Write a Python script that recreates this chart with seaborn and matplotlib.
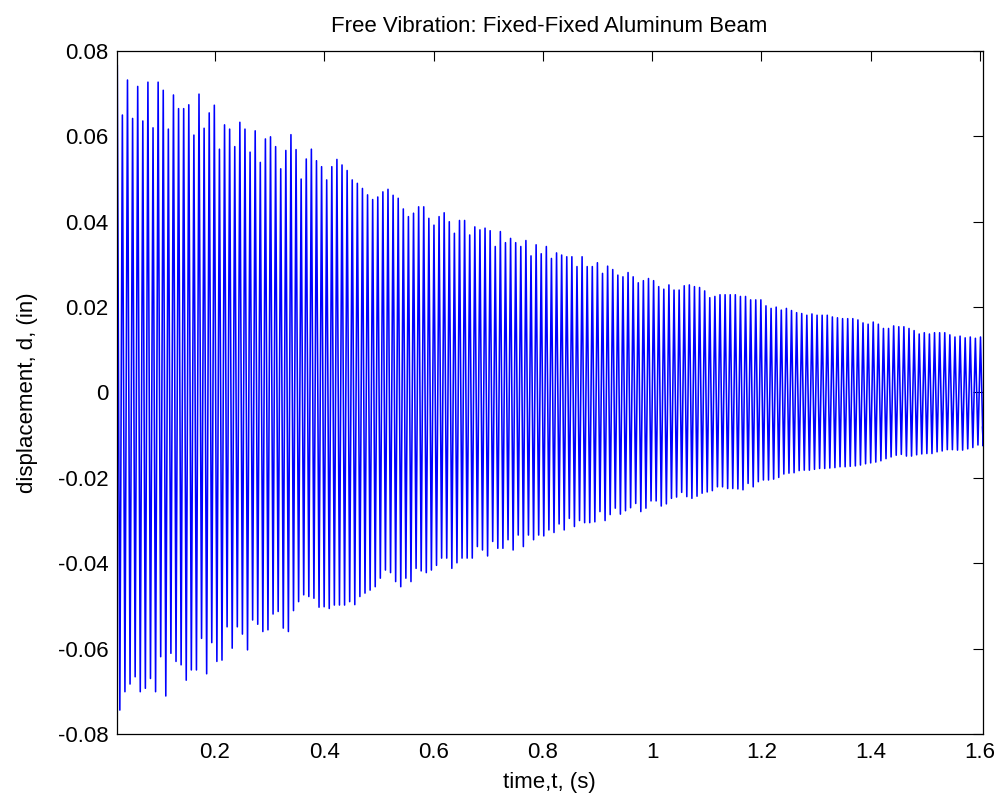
import numpy as np
import pandas as pd
import matplotlib
matplotlib.use("Agg")
import matplotlib.pyplot as plt
import seaborn as sns

# ---- data (displacement peaks, inches) ----
t_start = 0.021          # s, first sample shown
cycle = 0.00935          # s, spacing between successive upper peaks
t_end = 1.605            # s, last sample
d_end = -0.008           # in, last sample value

upper_peaks = [
    0.0767, 0.0650, 0.0732, 0.0642, 0.0717, 0.0636, 0.0727, 0.0620, 0.0727, 0.0708,
    0.0617, 0.0697, 0.0665, 0.0665, 0.0674, 0.0603, 0.0699, 0.0619, 0.0655, 0.0673,
    0.0570, 0.0627, 0.0617, 0.0576, 0.0633, 0.0617, 0.0563, 0.0613, 0.0539, 0.0594,
    0.0599, 0.0576, 0.0524, 0.0567, 0.0604, 0.0569, 0.0500, 0.0547, 0.0570, 0.0543,
    0.0529, 0.0498, 0.0529, 0.0546, 0.0533, 0.0520, 0.0498, 0.0490, 0.0478, 0.0463,
    0.0452, 0.0458, 0.0470, 0.0476, 0.0462, 0.0455, 0.0430, 0.0412, 0.0420, 0.0435,
    0.0435, 0.0408, 0.0392, 0.0412, 0.0421, 0.0400, 0.0373, 0.0403, 0.0403, 0.0369,
    0.0388, 0.0381, 0.0385, 0.0379, 0.0342, 0.0377, 0.0351, 0.0361, 0.0351, 0.0342,
    0.0356, 0.0320, 0.0346, 0.0325, 0.0342, 0.0314, 0.0327, 0.0322, 0.0318, 0.0318,
    0.0295, 0.0318, 0.0295, 0.0295, 0.0304, 0.0279, 0.0296, 0.0288, 0.0275, 0.0271,
    0.0281, 0.0271, 0.0257, 0.0262, 0.0267, 0.0262, 0.0248, 0.0242, 0.0252, 0.0240,
    0.0240, 0.0250, 0.0252, 0.0248, 0.0246, 0.0238, 0.0222, 0.0225, 0.0229, 0.0229,
    0.0229, 0.0229, 0.0225, 0.0225, 0.0217, 0.0217, 0.0217, 0.0203, 0.0197, 0.0200,
    0.0193, 0.0197, 0.0192, 0.0187, 0.0185, 0.0181, 0.0184, 0.0181, 0.0181, 0.0181,
    0.0177, 0.0175, 0.0173, 0.0173, 0.0173, 0.0170, 0.0163, 0.0160, 0.0165, 0.0160,
    0.0150, 0.0150, 0.0156, 0.0154, 0.0154, 0.0150, 0.0145, 0.0137, 0.0140, 0.0137,
    0.0140, 0.0140, 0.0140, 0.0135, 0.0130, 0.0132, 0.0128, 0.0130, 0.0127, 0.0130,
]

lower_peaks = [
    -0.0744, -0.0701, -0.0683, -0.0666, -0.0701, -0.0693, -0.0670, -0.0701, -0.0619, -0.0711,
    -0.0611, -0.0630, -0.0638, -0.0674, -0.0650, -0.0650, -0.0576, -0.0659, -0.0586, -0.0630,
    -0.0627, -0.0549, -0.0599, -0.0549, -0.0566, -0.0603, -0.0533, -0.0543, -0.0560, -0.0556,
    -0.0519, -0.0513, -0.0552, -0.0560, -0.0511, -0.0490, -0.0474, -0.0478, -0.0482, -0.0503,
    -0.0502, -0.0506, -0.0498, -0.0498, -0.0498, -0.0490, -0.0497, -0.0478, -0.0470, -0.0463,
    -0.0455, -0.0435, -0.0416, -0.0422, -0.0443, -0.0455, -0.0435, -0.0443, -0.0412, -0.0418,
    -0.0422, -0.0416, -0.0405, -0.0388, -0.0388, -0.0412, -0.0399, -0.0388, -0.0388, -0.0388,
    -0.0361, -0.0369, -0.0383, -0.0349, -0.0365, -0.0365, -0.0345, -0.0369, -0.0334, -0.0361,
    -0.0334, -0.0345, -0.0334, -0.0336, -0.0322, -0.0328, -0.0308, -0.0322, -0.0295, -0.0314,
    -0.0300, -0.0305, -0.0305, -0.0303, -0.0279, -0.0300, -0.0286, -0.0271, -0.0285, -0.0277,
    -0.0270, -0.0260, -0.0279, -0.0271, -0.0254, -0.0254, -0.0266, -0.0261, -0.0248, -0.0245,
    -0.0234, -0.0244, -0.0248, -0.0243, -0.0236, -0.0233, -0.0230, -0.0221, -0.0221, -0.0225,
    -0.0225, -0.0226, -0.0228, -0.0213, -0.0221, -0.0209, -0.0205, -0.0205, -0.0203, -0.0199,
    -0.0191, -0.0189, -0.0188, -0.0183, -0.0182, -0.0182, -0.0180, -0.0178, -0.0178, -0.0177,
    -0.0176, -0.0174, -0.0174, -0.0173, -0.0172, -0.0170, -0.0167, -0.0165, -0.0163, -0.0160,
    -0.0155, -0.0151, -0.0147, -0.0145, -0.0149, -0.0149, -0.0146, -0.0144, -0.0143, -0.0143,
    -0.0139, -0.0137, -0.0134, -0.0134, -0.0135, -0.0135, -0.0132, -0.0129, -0.0123, -0.0125,
]

x_ticks = [0.2, 0.4, 0.6, 0.8, 1.0, 1.2, 1.4, 1.6]
x_tick_labels = ["0.2", "0.4", "0.6", "0.8", "1", "1.2", "1.4", "1.6"]
y_ticks = [-0.08, -0.06, -0.04, -0.02, 0.0, 0.02, 0.04, 0.06, 0.08]
y_tick_labels = ["-0.08", "-0.06", "-0.04", "-0.02", "0", "0.02", "0.04", "0.06", "0.08"]

title = "Free Vibration: Fixed-Fixed Aluminum Beam"
xlabel = "time,t, (s)"
ylabel = "displacement, d, (in)"

# ---- build the sampled record: upper peak, then lower peak, per cycle ----
n = len(upper_peaks)
t_up = t_start + cycle * np.arange(n)
t_lo = t_up + cycle / 2
t = np.empty(2 * n + 1)
d = np.empty(2 * n + 1)
t[0:2 * n:2] = t_up
t[1:2 * n:2] = t_lo
d[0:2 * n:2] = upper_peaks
d[1:2 * n:2] = lower_peaks
t[-1] = t_end
d[-1] = d_end
df = pd.DataFrame({"t": t, "d": d})

# ---- style ----
sns.set_style("white")
plt.rcParams["font.family"] = ["Liberation Sans Narrow", "Liberation Sans", "DejaVu Sans"]
plt.rcParams["text.color"] = "black"
plt.rcParams["axes.labelcolor"] = "black"
plt.rcParams["xtick.color"] = "black"
plt.rcParams["ytick.color"] = "black"

fig = plt.figure(figsize=(10.08, 8.08), dpi=100)
ax = fig.add_axes([0.1158, 0.0916, 0.859, 0.8453])

sns.lineplot(data=df, x="t", y="d", sort=False, estimator=None,
             color="#0000FF", linewidth=1.15, ax=ax)

ax.set_xlim(0.02, 1.605)
ax.set_ylim(-0.08, 0.08)
ax.set_xticks(x_ticks)
ax.set_xticklabels(x_tick_labels)
ax.set_yticks(y_ticks)
ax.set_yticklabels(y_tick_labels)
ax.tick_params(axis="both", which="both", direction="in", length=7, width=0.8,
               top=True, right=True, labelsize=16, colors="black", pad=6)
for s in ax.spines.values():
    s.set_visible(True)
    s.set_color("black")
    s.set_linewidth(0.9)

ax.set_title(title, fontsize=16, pad=14, color="black")
ax.set_xlabel(xlabel, fontsize=16, labelpad=6, color="black")
ax.set_ylabel(ylabel, fontsize=16, labelpad=14, color="black")

fig.savefig("out.png", dpi=100, facecolor="white")
